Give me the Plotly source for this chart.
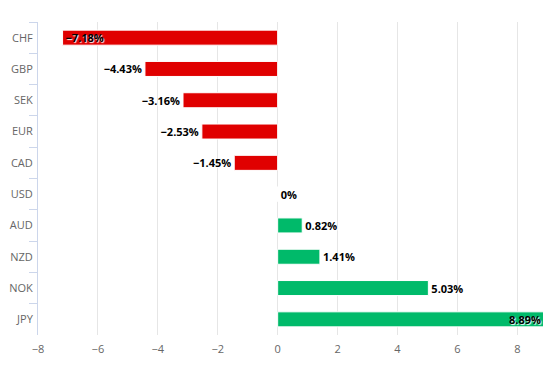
import plotly.graph_objects as go

currencies = ["CHF", "GBP", "SEK", "EUR", "CAD", "USD", "AUD", "NZD", "NOK", "JPY"]
changes = [-7.18, -4.43, -3.16, -2.53, -1.45, 0.0, 0.82, 1.41, 5.03, 8.89]
x_ticks = [-8, -6, -4, -2, 0, 2, 4, 6, 8]

RED = "#e00000"
GREEN = "#00ba6a"

colors = [RED if v < 0 else GREEN for v in changes]
labels = [("0%" if v == 0 else f"{v:.2f}%".replace("-", "\u2212")) for v in changes]
positions = ["inside" if abs(v) > 7 else "outside" for v in changes]

fig = go.Figure(go.Bar(
    x=changes, y=currencies, orientation="h",
    marker=dict(color=colors, line=dict(color="white", width=1)),
    text=labels, textposition=positions, insidetextanchor="end",
    textfont=dict(family="Open Sans, DejaVu Sans, sans-serif", size=11, color="#000000",
                  weight="bold", shadow="1px 1px 1px white"),
    constraintext="none", cliponaxis=False, hoverinfo="skip",
))

# the page body has an 8px default margin, so the figure is sized to fill the window
fig.update_layout(
    width=543, height=359,
    margin=dict(l=30, r=7, t=14, b=32),
    paper_bgcolor="white", plot_bgcolor="white",
    bargap=0.52, showlegend=False,
    font=dict(family="Open Sans, DejaVu Sans, sans-serif", size=11, color="#666666"),
    xaxis=dict(range=[-8, 8.89], tickvals=x_ticks, automargin=False,
               ticktext=[str(t).replace("-", "\u2212") for t in x_ticks],
               showgrid=True, gridcolor="#e6e6e6", gridwidth=1,
               zeroline=True, zerolinecolor="#e6e6e6", zerolinewidth=1,
               showline=False, ticks="", ticklabelstandoff=6,
               tickfont=dict(size=11, color="#666666")),
    yaxis=dict(autorange="reversed", showline=True, linecolor="#ccd6eb", linewidth=1,
               automargin=False,
               ticks="outside", tickson="boundaries", ticklen=8, tickcolor="#ccd6eb",
               showgrid=False, tickfont=dict(size=11, color="#666666"), ticklabelstandoff=2),
)

fig.write_html("out.html")
